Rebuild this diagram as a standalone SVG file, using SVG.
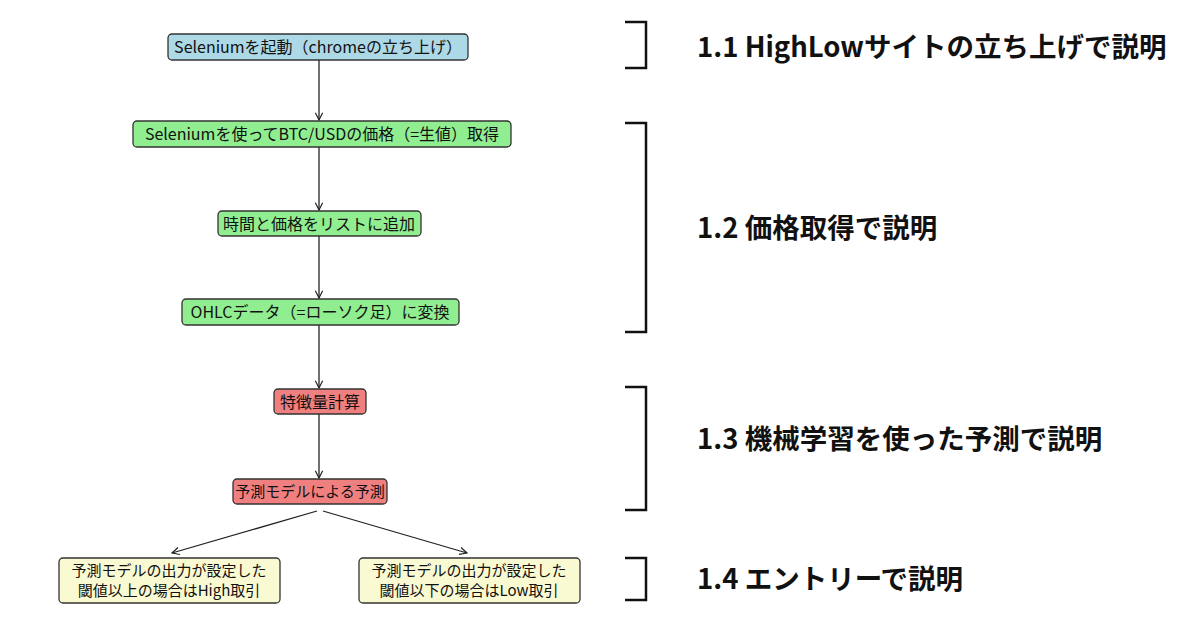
<svg xmlns="http://www.w3.org/2000/svg" width="1200" height="630" viewBox="0 0 1200 630">
<defs>
<marker id="ah" viewBox="0 0 10 10" refX="9" refY="5" markerWidth="7" markerHeight="7" orient="auto"><path d="M1,1 L9,5 L1,9" fill="none" stroke="#222" stroke-width="1.3"/></marker>
<style>
.n rect{stroke:#333;stroke-width:1.3}
.n text{font-family:"Noto Sans CJK JP","Noto Sans",sans-serif;font-size:16px;fill:#111;text-anchor:middle}
.n text.s{font-size:15px}
.b{fill:#add8e6}.g{fill:#90ee90}.r{fill:#f08080}.y{fill:#fafad2}
.c line{stroke:#222;stroke-width:1.3;marker-end:url(#ah)}
.br{fill:none;stroke:#111;stroke-width:2.5}
.h{font-family:"Noto Sans CJK JP","Noto Sans",sans-serif;font-size:27.5px;font-weight:bold;fill:#111}
</style>
</defs>
<rect width="1200" height="630" fill="#fff"/>
<g class="c">
<line x1="319" y1="60" x2="319" y2="120"/>
<line x1="319" y1="147" x2="319" y2="210"/>
<line x1="319" y1="236" x2="319" y2="298"/>
<line x1="319" y1="325" x2="319" y2="388"/>
<line x1="319" y1="414" x2="319" y2="478"/>
<line x1="317" y1="511" x2="172" y2="553"/>
<line x1="323" y1="511" x2="467" y2="553"/>
</g>
<g id="n1" class="n"><rect class="b" x="168" y="34" width="300" height="26" rx="4"/><text x="318" y="53">Seleniumを起動（chromeの立ち上げ）</text></g>
<g id="n2" class="n"><rect class="g" x="133" y="121" width="378" height="26" rx="4"/><text x="322" y="140">Seleniumを使ってBTC/USDの価格（=生値）取得</text></g>
<g id="n3" class="n"><rect class="g" x="218" y="211" width="203" height="25" rx="4"/><text x="319" y="229.5">時間と価格をリストに追加</text></g>
<g id="n4" class="n"><rect class="g" x="182" y="299" width="277" height="26" rx="4"/><text x="320" y="318">OHLCデータ（=ローソク足）に変換</text></g>
<g id="n5" class="n"><rect class="r" x="274" y="389" width="92" height="25" rx="4"/><text x="320" y="407.5">特徴量計算</text></g>
<g id="n6" class="n"><rect class="r" x="233" y="479" width="154" height="25" rx="4"/><text class="s" x="310" y="497">予測モデルによる予測</text></g>
<g id="n7" class="n"><rect class="y" x="59" y="558" width="221" height="45" rx="4"/><text class="s" x="169" y="576">予測モデルの出力が設定した</text><text class="s" x="169" y="596">閾値以上の場合はHigh取引</text></g>
<g id="n8" class="n"><rect class="y" x="359" y="558" width="221" height="45" rx="4"/><text class="s" x="469" y="576">予測モデルの出力が設定した</text><text class="s" x="469" y="596">閾値以下の場合はLow取引</text></g>
<g id="brackets">
<path class="br" d="M625,22 H646 V68 H625"/>
<path class="br" d="M625,123 H646 V332 H625"/>
<path class="br" d="M625,387 H646 V510 H625"/>
<path class="br" d="M625,558 H646 V600 H625"/>
<text class="h" x="697" y="57">1.1 HighLowサイトの立ち上げで説明</text>
<text class="h" x="697" y="238">1.2 価格取得で説明</text>
<text class="h" x="697" y="449">1.3 機械学習を使った予測で説明</text>
<text class="h" x="697" y="589">1.4 エントリーで説明</text>
</g>
</svg>
